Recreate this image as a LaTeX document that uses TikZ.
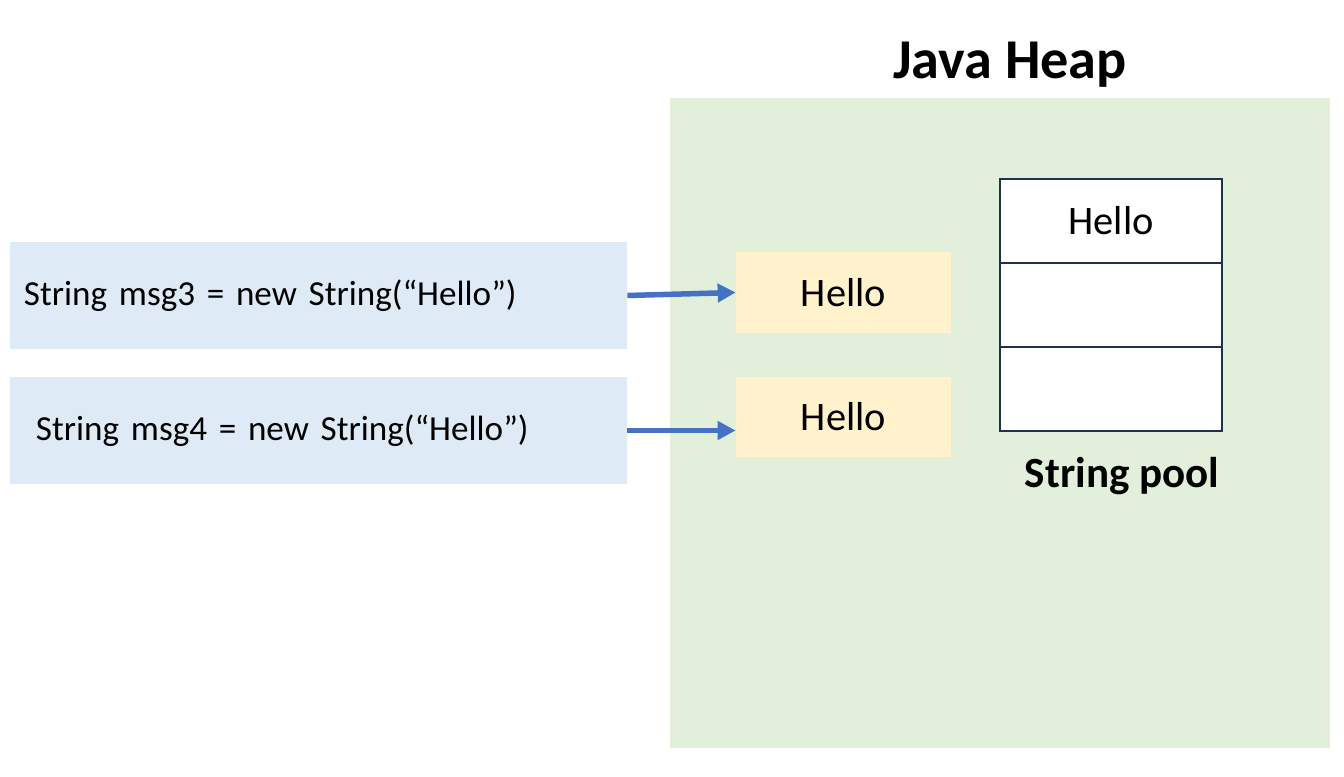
\documentclass[tikz,border=0pt]{standalone}
\usepackage{fontspec}
\setmainfont{Carlito}
\usetikzlibrary{arrows.meta,positioning}
\definecolor{heapGreen}{RGB}{226,239,218}
\definecolor{codeBlue}{RGB}{222,235,247}
\definecolor{objYellow}{RGB}{255,242,204}
\definecolor{poolNavy}{RGB}{31,48,80}
\definecolor{arrowBlue}{RGB}{68,114,196}

\begin{document}
\begin{tikzpicture}[
    code/.style={fill=codeBlue,minimum width=12.34cm,minimum height=2.14cm,text width=11.78cm,align=left,inner xsep=0.28cm,font=\fontsize{20}{24}\selectfont},
    obj/.style={fill=objYellow,minimum width=4.3cm,minimum height=1.61cm,font=\fontsize{23}{27}\selectfont},
    slot/.style={draw=poolNavy,line width=1.1pt,fill=white,minimum width=4.44cm,minimum height=1.68cm,font=\fontsize{23}{27}\selectfont},
    title/.style={font=\bfseries\fontsize{32}{38}\selectfont},
    arrow/.style={-{Triangle[length=0.36cm,width=0.36cm]},line width=0.11cm,draw=arrowBlue}
  ]
    \useasboundingbox (0,0) rectangle (26.88,-15.54);
    \fill[heapGreen] (13.4,-1.96) rectangle (26.6,-14.96);
    \node[title] (heap) at (20.2,-1.3) {Java Heap};

    \node[code] (msg3) at (6.37,-5.91) {String msg3 = new String(“Hello”)};
    \node[code] (msg4) at (6.37,-8.61) {\hspace{0.24cm}String msg4 = new String(“Hello”)};

    \node[obj] (hello3) at (16.87,-5.85) {Hello};
    \node[obj] (hello4) at (16.87,-8.34) {Hello};

    \node[slot] (pool1) at (22.22,-4.42) {Hello};
    \node[slot] (pool2) at (22.22,-6.10) {};
    \node[slot] (pool3) at (22.22,-7.78) {};
    \node[title,font=\bfseries\fontsize{24.5}{29}\selectfont] (poollabel) at (22.44,-9.52) {String pool};

    \draw[arrow] (msg3.east) -- (hello3.west);
    \draw[arrow] (msg4.east) -- (hello4.west |- msg4.east);
  \end{tikzpicture}
\end{document}
